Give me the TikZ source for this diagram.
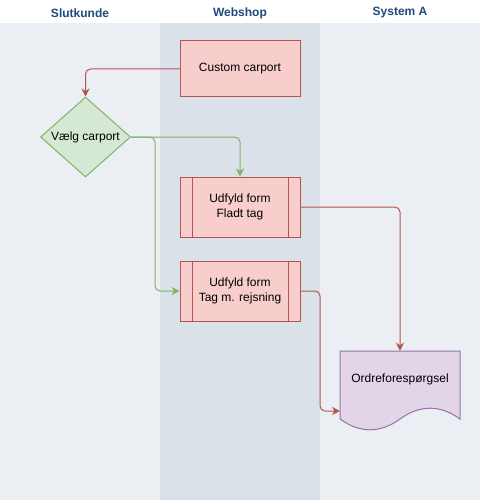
\documentclass[tikz,border=0pt]{standalone}
\usepackage{fontspec}
\setmainfont{Liberation Sans}
\usetikzlibrary{shapes.geometric,arrows.meta,calc}
\definecolor{laneA}{HTML}{EBEFF3}
\definecolor{laneB}{HTML}{DAE1E8}
\definecolor{hdr}{HTML}{1F4A7E}
\definecolor{rfill}{HTML}{F8CECC}
\definecolor{rline}{HTML}{B85450}
\definecolor{gfill}{HTML}{D5E8D4}
\definecolor{gline}{HTML}{82B366}
\definecolor{pfill}{HTML}{E1D5E7}
\definecolor{pline}{HTML}{9673A6}
\tikzset{
  hdrtext/.style={font=\fontsize{12}{14}\selectfont\bfseries, text=hdr},
  lbl/.style={font=\fontsize{12}{15}\selectfont, align=center, text=black},
  redbox/.style={draw=rline, fill=rfill, line width=1pt, minimum width=120pt, minimum height=56pt, inner sep=0pt, lbl},
  procbox/.style={redbox, minimum height=60pt},
  choice/.style={diamond, draw=gline, fill=gfill, line width=1pt, minimum width=90pt, minimum height=80pt, inner sep=0pt, aspect=1.125, lbl},
  redflow/.style={draw=rline, line width=1pt, rounded corners=5pt, -{Stealth[length=8pt,width=8pt,inset=2.5pt]}},
  greenflow/.style={draw=gline, line width=1pt, rounded corners=5pt, -{Stealth[length=8pt,width=8pt,inset=2.5pt]}},
}
\begin{document}
\begin{tikzpicture}[x=1pt,y=-1pt]
\useasboundingbox (0,0) rectangle (480,500);
\fill[white] (0,0) rectangle (480,500);
\fill[laneA] (0,23) rectangle (160,500);
\fill[laneB] (160,23) rectangle (320,500);
\fill[laneA] (320,23) rectangle (480,500);
\node[hdrtext] (h1) at (80,13) {Slutkunde};
\node[hdrtext] (h2) at (240,13) {Webshop};
\node[hdrtext] (h3) at (400,13) {System A};

\node[redbox] (custom) at (240,69) {Custom carport};
\node[choice] (valg) at (85.5,137) {Vælg carport};
\node[procbox] (fladt) at (240,207) {Udfyld form\\Fladt tag};
\node[procbox] (rejs) at (240,291) {Udfyld form\\Tag m. rejsning};
\foreach \b in {fladt,rejs}{
  \draw[rline, line width=1pt] ($(\b.north west)+(12.5,0)$) -- ($(\b.south west)+(12.5,0)$);
  \draw[rline, line width=1pt] ($(\b.north east)+(-12,0)$) -- ($(\b.south east)+(-12,0)$);
}
\node[minimum width=120pt, minimum height=80pt, inner sep=0pt] (doc) at (400,391) {};
\draw[pline, fill=pfill, line width=1pt]
  (340,351) -- (460,351) -- (460,419)
  .. controls (440,404.6) and (420,404.6) .. (400,419)
  .. controls (380,433.4) and (360,433.4) .. (340,419) -- cycle;
\node[lbl] (doctext) at (400,379) {Ordreforespørgsel};
\coordinate (docin) at (340,411);

\draw[redflow] (custom.west) -| (valg.north);
\draw[greenflow] (valg.east) -| (fladt.north);
\draw[greenflow] (valg.east) -- (155,137) -- (155,291) -- (rejs.west);
\draw[redflow] (fladt.east) -| (doc.north);
\draw[redflow] (rejs.east) -- (320,291) -- (320,411) -- (docin);
\end{tikzpicture}
\end{document}
